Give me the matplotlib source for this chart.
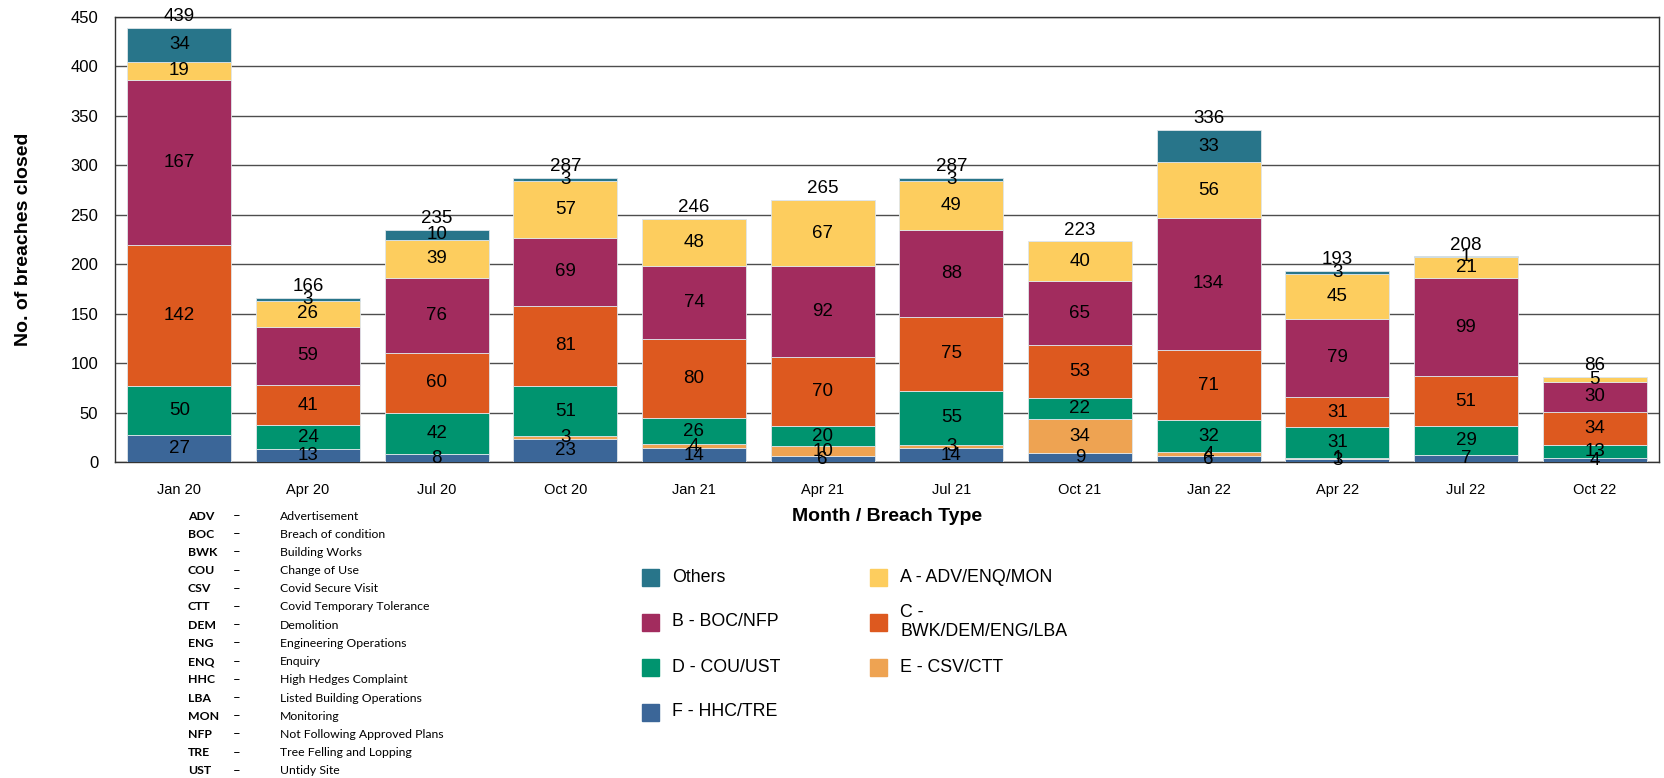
import matplotlib
matplotlib.use("Agg")
import matplotlib.pyplot as plt
import matplotlib.patches as mpatches
import numpy as np

plt.rcParams["font.family"] = ["Liberation Sans", "DejaVu Sans"]

# ── data ──────────────────────────────────────────────
months = ["Jan 20", "Apr 20", "Jul 20", "Oct 20", "Jan 21", "Apr 21",
          "Jul 21", "Oct 21", "Jan 22", "Apr 22", "Jul 22", "Oct 22"]

# stacked bottom -> top
f_hhc_tre = [27, 13, 8, 23, 14, 6, 14, 9, 6, 3, 7, 4]
e_csv_ctt = [0, 0, 0, 3, 4, 10, 3, 34, 4, 1, 0, 0]
d_cou_ust = [50, 24, 42, 51, 26, 20, 55, 22, 32, 31, 29, 13]
c_bwk = [142, 41, 60, 81, 80, 70, 75, 53, 71, 31, 51, 34]
b_boc_nfp = [167, 59, 76, 69, 74, 92, 88, 65, 134, 79, 99, 30]
a_adv = [19, 26, 39, 57, 48, 67, 49, 40, 56, 45, 21, 5]
others = [34, 3, 10, 3, 0, 0, 3, 0, 33, 3, 1, 0]

series_names = ["F - HHC/TRE", "E - CSV/CTT", "D - COU/UST", "C -\nBWK/DEM/ENG/LBA",
                "B - BOC/NFP", "A - ADV/ENQ/MON", "Others"]
series_vals = [f_hhc_tre, e_csv_ctt, d_cou_ust, c_bwk, b_boc_nfp, a_adv, others]
series_cols = ["#3b6698", "#eea352", "#00946f", "#dd591f", "#a22c5e", "#fdcd5e", "#28758a"]

# legend layout: two columns, read top to bottom
legend_col1 = ["Others", "B - BOC/NFP", "D - COU/UST", "F - HHC/TRE"]
legend_col2 = ["A - ADV/ENQ/MON", "C -\nBWK/DEM/ENG/LBA", "E - CSV/CTT"]

glossary_abbr = ["ADV", "BOC", "BWK", "COU", "CSV", "CTT", "DEM", "ENG", "ENQ",
                 "HHC", "LBA", "MON", "NFP", "TRE", "UST"]
glossary_desc = ["Advertisement", "Breach of condition", "Building Works", "Change of Use",
                 "Covid Secure Visit", "Covid Temporary Tolerance", "Demolition",
                 "Engineering Operations", "Enquiry", "High Hedges Complaint",
                 "Listed Building Operations", "Monitoring", "Not Following Approved Plans",
                 "Tree Felling and Lopping", "Untidy Site"]

W, H = 1664, 778
fig = plt.figure(figsize=(W / 100, H / 100), dpi=100)
ax = fig.add_axes([115 / W, 1 - 462 / H, (1659 - 115) / W, (462 - 17) / H])

x = np.arange(len(months))
bottom = np.zeros(len(months))
for name, vals, col in zip(series_names, series_vals, series_cols):
    vals = np.array(vals, dtype=float)
    ax.bar(x, vals, bottom=bottom, width=0.81, color=col,
           edgecolor="#dfe6ea", linewidth=0.6, zorder=3)
    for xi, b, v in zip(x, bottom, vals):
        if v > 0:
            ax.text(xi, b + v / 2, f"{int(v)}", ha="center", va="center",
                    fontsize=13.5, color="black", zorder=5)
    bottom += vals

for xi, tot in zip(x, bottom):
    ax.annotate(f"{int(tot)}", (xi, tot), xytext=(0, 2), textcoords="offset points",
                ha="center", va="bottom", fontsize=13.5, zorder=5)

ax.set_xlim(-0.5, 11.5)
ax.set_ylim(0, 450)
ax.set_yticks(np.arange(0, 451, 50))
ax.set_xticks(x)
ax.set_xticklabels(months, fontsize=10.5)
ax.tick_params(axis="y", labelsize=12, length=0, pad=12)
ax.tick_params(axis="x", length=0, pad=15)
ax.grid(axis="y", color="#4d4d4d", linewidth=1, zorder=0)
for s in ax.spines.values():
    s.set_color("#333333")
    s.set_linewidth(1)
ax.set_ylabel("No. of breaches closed", fontsize=14, fontweight="bold", labelpad=28)
ax.set_xlabel("Month / Breach Type", fontsize=14, fontweight="bold", labelpad=8)

# legend (drawn as patches + text so both columns share row positions)
col_x = [642, 870]
row_y = [577, 622, 667, 712]
for cx, names in zip(col_x, [legend_col1, legend_col2]):
    for ry, n in zip(row_y, names):
        col = series_cols[series_names.index(n)]
        fig.patches.append(mpatches.Rectangle((cx / W, 1 - (ry + 8.5) / H), 17 / W, 17 / H,
                                              color=col, transform=fig.transFigure))
        fig.text((cx + 30) / W, 1 - ry / H, n, fontsize=12.8, va="center", ha="left",
                 linespacing=1.15)

# glossary
for i, (ab, de) in enumerate(zip(glossary_abbr, glossary_desc)):
    yy = 1 - (516 + i * 18.2) / H
    fig.text(188 / W, yy, ab, fontsize=8.8, fontweight="bold", family="Lato", va="center")
    fig.text(233 / W, yy, "\u2013", fontsize=9.5, family="Lato", va="center")
    fig.text(280 / W, yy, de, fontsize=8.8, family="Lato", va="center")

fig.savefig("out.png", dpi=100)
